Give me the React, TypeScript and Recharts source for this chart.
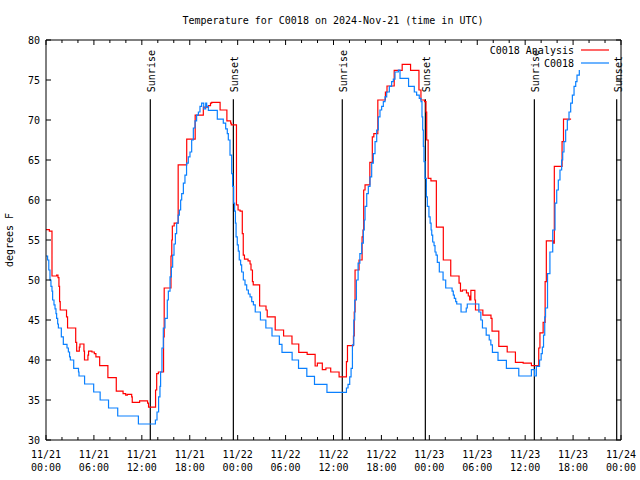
import React from 'react';
import { LineChart, Line, XAxis, YAxis, ReferenceLine } from 'recharts';

const FONT = '"DejaVu Sans Mono", "Liberation Mono", monospace';

// hours since 11/21 00:00 UTC, temperature in degrees F
const analysisHours = [
  0, 0.42, 0.75, 1.33, 1.5, 1.62, 1.7, 1.78, 2.57, 2.7, 3.72, 3.84, 4.17, 4.25, 4.75, 4.82,
  5.25, 5.33, 5.75, 6.05, 6.25, 6.72, 7.75, 8.8, 9.65, 9.98, 10.18, 10.73, 10.8, 11.72, 12.72,
  12.84, 13.72, 13.86, 14.07, 14.72, 14.8, 15.65, 15.75, 15.82, 16.05, 16.55, 17.62, 18.68,
  19.7, 20.35, 20.6, 20.75, 21.8, 22.65, 23.12, 23.2, 23.85, 24.05, 24.3, 24.58, 24.7, 24.85,
  25.3, 25.55, 25.67, 25.85, 25.95, 26.75, 27.55, 27.7, 28.7, 29.75, 30.8, 31.65, 32.7, 33.7,
  33.98, 34.6, 35.05, 35.65, 36.7, 37.62, 37.75, 38.5, 38.6, 38.7, 39.2, 39.58, 39.7, 39.78,
  39.95, 40.55, 40.86, 41.05, 41.55, 42.5, 42.7, 43.6, 44.6, 45.65, 46.7, 46.95, 47.4, 47.58,
  47.67, 47.85, 48.2, 48.88, 49.75, 50.68, 51.72, 51.9, 52.15, 52.65, 52.88, 53.05, 53.2, 53.7,
  53.78, 54.7, 55.72, 55.85, 56.7, 57.75, 58.78, 59.75, 60.78, 61.7, 61.85, 62.25, 62.5, 62.65,
  63.55, 63.65, 64.62, 64.8, 65.75,
];
const analysisTemps = [
  56.3, 56.1, 50.5, 50.6, 50.3, 49.2, 47.3, 46.25, 45.4, 44.0, 42.2, 41.1, 41.6, 42.0, 41.1, 40.0,
  40.6, 41.1, 41.0, 40.8, 40.4, 39.3, 37.8, 36.1, 35.8, 35.6, 35.7, 35.4, 34.7, 34.9, 34.6,
  34.1, 36.25, 38.3, 38.5, 42.9, 49.0, 53.0, 55.0, 56.75, 57.1, 64.4, 67.6, 70.6,
  71.6, 71.8, 72.1, 72.2, 71.25, 69.9, 69.6, 69.4, 59.4, 58.75, 58.6, 55.8, 53.1, 52.6,
  52.4, 52.0, 51.25, 49.8, 49.4, 46.75, 46.25, 45.4, 43.75, 43.0, 42.0, 40.95, 40.7, 39.25,
  39.6, 38.8, 39.0, 38.5, 37.9, 39.8, 41.8, 43.0, 46.0, 51.25, 52.5, 55.4, 56.25, 61.25,
  61.9, 64.7, 67.9, 68.3, 72.5, 73.5, 74.25, 76.2, 76.95, 76.2, 73.75, 72.5, 72.3, 71.0,
  67.5, 62.7, 62.4, 56.6, 52.5, 50.5, 49.6, 48.6, 48.75, 48.4, 48.0, 47.5, 48.7, 47.5,
  46.25, 45.6, 45.2, 43.6, 41.7, 41.0, 39.7, 39.6, 39.3, 41.5, 43.4, 44.7, 49.8, 54.9,
  54.6, 64.2, 67.3, 70.1, 70.1,
];

const stationHours = [
  0, 0.2, 0.35, 0.5, 0.62, 0.75, 0.83, 1.0, 1.13, 1.25, 1.33, 1.46, 1.55, 1.92, 2.17, 2.63, 2.8,
  2.95, 3.05, 3.47, 4.07, 4.13, 4.83, 5.97, 6.78, 7.83, 8.98, 11.57, 13.7, 13.9, 14.1, 14.27,
  14.35, 14.52, 14.69, 14.9, 15.19, 15.32, 15.53, 15.7, 15.86, 16.03, 16.2, 16.36, 16.55, 16.7,
  16.86, 16.99, 17.2, 17.4, 17.6, 17.82, 18.03, 18.24, 18.45, 18.66, 18.86, 19.08, 19.28, 19.49,
  19.75, 20.0, 20.12, 20.33, 21.45, 22.2, 22.5, 22.7, 22.83, 23.04, 23.25, 23.37, 23.5, 23.62,
  23.72, 23.8, 23.95, 24.08, 24.2, 24.37, 24.5, 24.71, 24.92, 25.13, 25.34, 25.55, 25.76, 25.97,
  26.2, 26.85, 27.53, 28.3, 29.22, 29.55, 30.82, 31.62, 32.66, 33.62, 35.18, 37.62, 37.82, 38.03,
  38.2, 38.37, 38.54, 38.66, 38.87, 39.08, 39.3, 39.53, 39.74, 39.85, 39.95, 40.16, 40.36, 40.57,
  40.78, 40.99, 41.2, 41.41, 41.61, 41.82, 42.03, 42.24, 42.45, 42.66, 42.99, 43.28, 43.49, 43.7,
  44.12, 44.33, 45.4, 46.12, 46.41, 46.74, 46.96, 47.08, 47.17, 47.25, 47.33, 47.46, 47.63, 47.75,
  47.95, 48.1, 48.22, 48.3, 48.42, 48.59, 48.71, 48.84, 49.0, 49.25, 49.72, 50.05, 50.85, 51.0,
  51.13, 51.3, 51.43, 51.97, 52.62, 52.75, 54.2, 54.45, 54.65, 55.12, 55.5, 55.7, 55.9, 56.6,
  57.65, 59.2, 60.78, 61.18, 61.4, 61.8, 62.0, 62.15, 62.3, 62.45, 62.55, 62.8, 63.1, 63.45,
  63.74, 63.95, 64.15, 64.36, 64.57, 64.7, 64.86, 65.07, 65.28, 65.49, 65.7, 65.91, 66.12, 66.33,
  66.49, 66.78,
];
const stationTemps = [
  53.0, 52.5, 51.25, 50.0, 49.2, 48.6, 47.5, 46.9, 46.4, 45.8, 45.2, 44.5, 44.0, 42.9, 41.95, 41.5, 41.0,
  40.4, 40.0, 38.95, 38.5, 38.0, 37.0, 36.0, 35.0, 34.0, 33.0, 32.0, 32.5, 33.5, 35.4, 36.7,
  38.5, 41.5, 44.0, 45.2, 47.5, 48.6, 50.4, 51.6, 53.1, 54.5, 55.8, 57.1, 58.1, 58.75,
  60.0, 60.8, 62.1, 63.1, 64.6, 65.4, 66.0, 67.5, 69.0, 69.9, 70.6, 71.0, 71.7, 72.1,
  71.4, 72.1, 71.7, 71.2, 70.1, 69.6, 68.9, 68.3, 67.5, 65.6, 63.3, 61.7, 59.6, 58.6,
  57.1, 55.4, 54.4, 53.6, 52.5, 51.9, 51.0, 50.0, 49.4, 48.75, 48.25, 47.9, 47.3, 46.9,
  46.0, 45.0, 44.0, 43.0, 41.95, 40.95, 40.0, 38.95, 37.95, 36.95, 35.95, 36.5, 36.95, 37.9,
  38.95, 41.9, 45.0, 47.5, 50.0, 52.1, 53.3, 54.6, 56.25, 57.5, 59.2, 60.8, 61.7, 62.9,
  64.6, 65.8, 67.3, 68.75, 70.4, 71.25, 71.7, 72.3, 72.9, 73.5, 74.2, 74.8, 75.1, 76.0,
  76.25, 75.2, 74.2, 73.5, 73.1, 72.7, 72.3, 70.4, 68.75, 66.7, 64.8, 62.7, 60.4, 59.2,
  57.9, 57.1, 56.25, 55.6, 54.75, 54.3, 53.5, 53.1, 52.2, 51.0, 50.0, 49.0, 48.6, 48.1,
  47.7, 47.3, 47.0, 46.0, 46.5, 47.0, 46.0, 45.0, 44.0, 43.1, 42.5, 41.9, 40.95, 39.95,
  38.95, 38.0, 38.8, 38.0, 39.2, 40.0, 40.8, 41.6, 43.1, 45.4, 46.5, 50.8, 53.5, 56.25,
  59.6, 61.25, 62.5, 63.75, 65.0, 66.0, 67.3, 68.75, 70.0, 71.0, 72.1, 73.1, 74.2, 74.8,
  75.6, 76.25,
];

const sunHours = [13.06, 23.46, 37.1, 47.5, 61.15, 71.46];
const sunLabels = ['Sunrise', 'Sunset', 'Sunrise', 'Sunset', 'Sunrise', 'Sunset'];

const xTicks = [
  0, 2, 4, 6, 8, 10, 12, 14, 16, 18, 20, 22, 24, 26, 28, 30, 32, 34, 36,
  38, 40, 42, 44, 46, 48, 50, 52, 54, 56, 58, 60, 62, 64, 66, 68, 70, 72,
];
const dayLabels = ['11/21', '11/21', '11/21', '11/21', '11/22', '11/22', '11/22', '11/22', '11/23', '11/23', '11/23', '11/23', '11/24'];
const timeLabels = ['00:00', '06:00', '12:00', '18:00', '00:00', '06:00', '12:00', '18:00', '00:00', '06:00', '12:00', '18:00', '00:00'];
const yTicks = [30, 35, 40, 45, 50, 55, 60, 65, 70, 75, 80];

const series = [
  { name: 'C0018 Analysis', color: '#ff0000', hours: analysisHours, temps: analysisTemps },
  { name: 'C0018', color: '#0a80ff', hours: stationHours, temps: stationTemps },
];

const BottomTick = (props: any) => {
  const { x, y, payload } = props;
  const v = payload.value;
  const major = v % 6 === 0;
  return (
    <g>
      <line x1={x} y1={y} x2={x} y2={y - (major ? 5 : 3)} stroke="#000" />
      {major && (
        <text x={x} y={y + 18} textAnchor="middle" fontFamily={FONT} fontSize={10} fill="#000">
          <tspan x={x}>{dayLabels[v / 6]}</tspan>
          <tspan x={x} dy={12.7}>{timeLabels[v / 6]}</tspan>
        </text>
      )}
    </g>
  );
};

const TopTick = (props: any) => {
  const { x, y, payload } = props;
  const major = payload.value % 6 === 0;
  return <line x1={x} y1={y} x2={x} y2={y + (major ? 5 : 3)} stroke="#000" />;
};

const LeftTick = (props: any) => {
  const { x, y, payload } = props;
  return (
    <g>
      <line x1={x} y1={y} x2={x + 5} y2={y} stroke="#000" />
      <text x={x - 6} y={y + 4} textAnchor="end" fontFamily={FONT} fontSize={10} fill="#000">
        {payload.value}
      </text>
    </g>
  );
};

const RightTick = (props: any) => {
  const { x, y } = props;
  return <line x1={x} y1={y} x2={x - 5} y2={y} stroke="#000" />;
};

const SunLabel = (props: any) => {
  const { viewBox, text } = props;
  const top = viewBox.y + Math.min(0, viewBox.height || 0);
  return (
    <text
      transform={`translate(${viewBox.x + 5},${top - 7}) rotate(-90)`}
      fontFamily={FONT}
      fontSize={10}
      fill="#000"
    >
      {text}
    </text>
  );
};

export default function App() {
  return (
    <div style={{ position: 'absolute', left: 0, top: 0, width: 640, height: 480, background: '#fff' }}>
      <LineChart width={640} height={480} margin={{ top: 0, right: 0, bottom: 0, left: 0 }}>
        <XAxis
          xAxisId="b"
          dataKey="h"
          type="number"
          orientation="bottom"
          domain={[0, 72]}
          ticks={xTicks}
          interval={0}
          height={40}
          tickSize={0}
          tickMargin={0}
          tickLine={false}
          axisLine={{ stroke: '#000' }}
          tick={BottomTick}
          allowDataOverflow
        />
        <XAxis
          xAxisId="t"
          dataKey="h"
          type="number"
          orientation="top"
          domain={[0, 72]}
          ticks={xTicks}
          interval={0}
          height={40}
          tickSize={0}
          tickMargin={0}
          tickLine={false}
          axisLine={{ stroke: '#000' }}
          tick={TopTick}
          allowDataOverflow
        />
        <YAxis
          yAxisId="l"
          type="number"
          domain={[30, 80]}
          ticks={yTicks}
          interval={0}
          width={46}
          tickSize={0}
          tickMargin={0}
          tickLine={false}
          axisLine={{ stroke: '#000' }}
          tick={LeftTick}
          allowDataOverflow
        />
        <YAxis
          yAxisId="r"
          orientation="right"
          type="number"
          domain={[30, 80]}
          ticks={yTicks}
          interval={0}
          width={19}
          tickSize={0}
          tickMargin={0}
          tickLine={false}
          axisLine={{ stroke: '#000' }}
          tick={RightTick}
          allowDataOverflow
        />
        {sunHours.map((h, i) => (
          <ReferenceLine
            key={`sun-${i}`}
            xAxisId="b"
            yAxisId="l"
            segment={[{ x: h, y: 72.6 }, { x: h, y: 30 }]}
            stroke="#000"
            strokeWidth={1.2}
            label={<SunLabel text={sunLabels[i]} />}
          />
        ))}
        {series.map((s) => (
          <Line
            key={s.name}
            xAxisId="b"
            yAxisId="l"
            data={s.hours.map((h, i) => ({ h, t: s.temps[i] }))}
            dataKey="t"
            name={s.name}
            type="stepAfter"
            stroke={s.color}
            strokeWidth={1.2}
            dot={false}
            activeDot={false}
            isAnimationActive={false}
          />
        ))}
        <text x={333} y={24} textAnchor="middle" fontFamily={FONT} fontSize={10} fill="#000">
          Temperature for C0018 on 2024-Nov-21 (time in UTC)
        </text>
        <text
          transform="translate(13,240) rotate(-90)"
          textAnchor="middle"
          fontFamily={FONT}
          fontSize={10}
          fill="#000"
        >
          degrees F
        </text>
        {series.map((s, i) => (
          <g key={`leg-${s.name}`}>
            <text x={574} y={54 + 13 * i} textAnchor="end" fontFamily={FONT} fontSize={10} fill="#000">
              {s.name}
            </text>
            <line x1={581} y1={50 + 13 * i} x2={609} y2={50 + 13 * i} stroke={s.color} strokeWidth={1.2} />
          </g>
        ))}
      </LineChart>
    </div>
  );
}
